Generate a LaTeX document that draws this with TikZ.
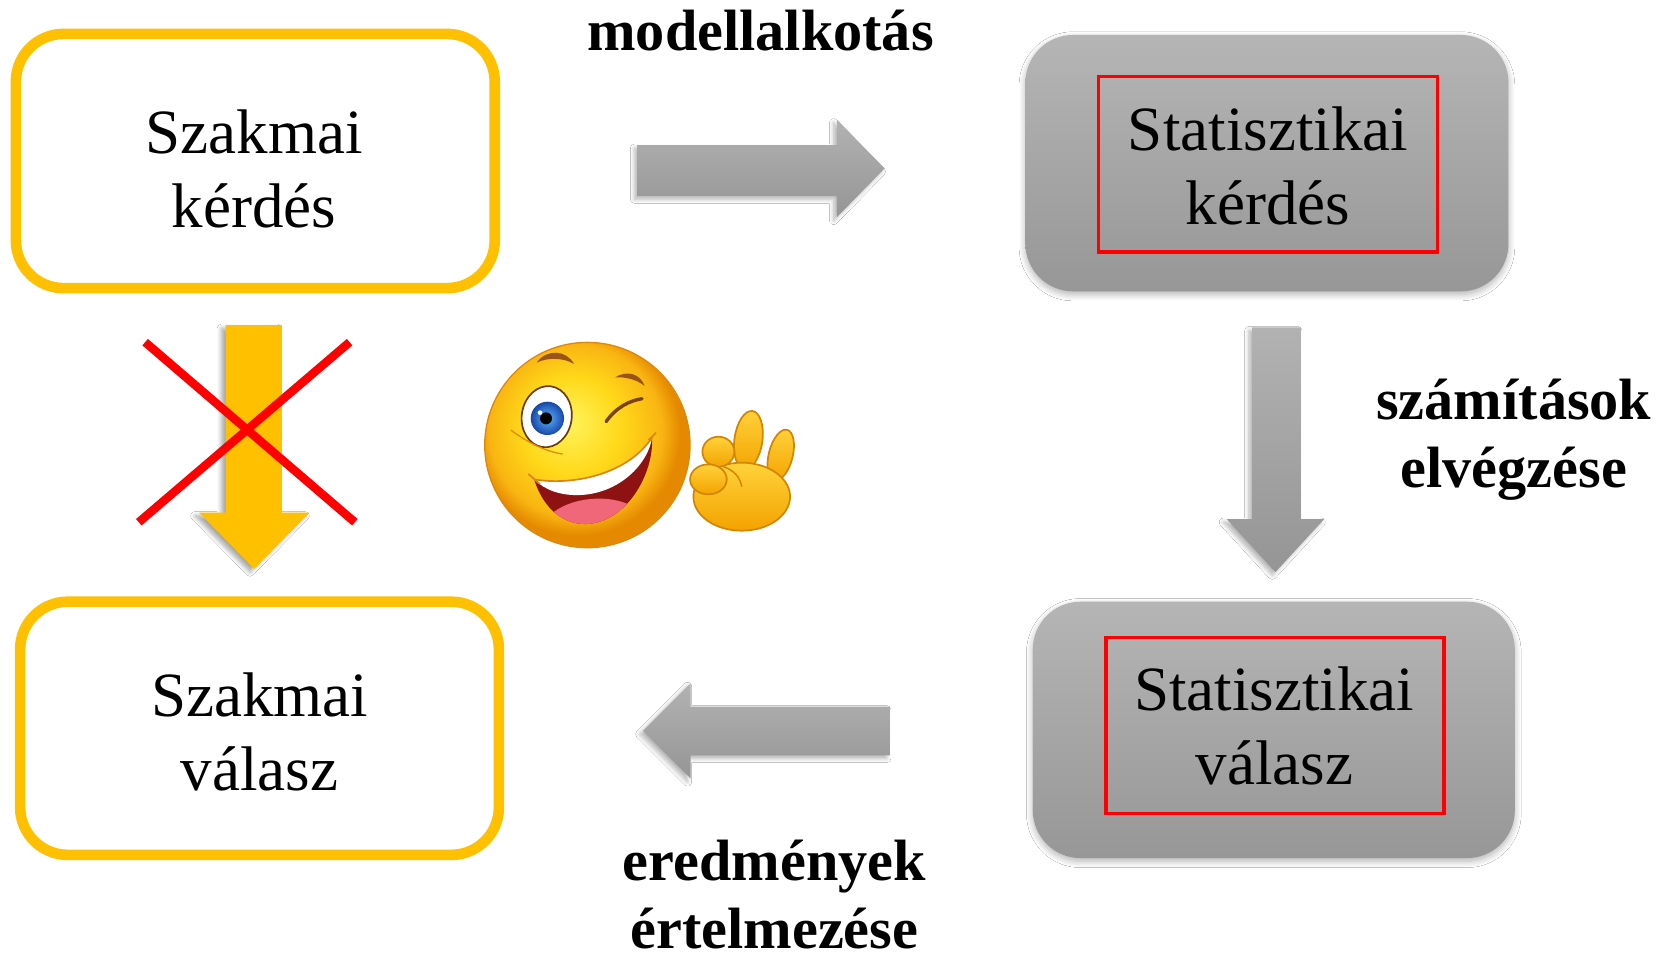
\documentclass[tikz,border=0pt]{standalone}
\usepackage{fontspec}
\setmainfont{Liberation Serif}
\usetikzlibrary{shadows.blur}
\definecolor{gold}{HTML}{FFC000}
\definecolor{gtop}{HTML}{B5B5B5}
\definecolor{gbot}{HTML}{979797}
\definecolor{atop}{HTML}{B2B2B2}
\definecolor{abot}{HTML}{959595}
\definecolor{smA}{HTML}{FFF45E}
\definecolor{smB}{HTML}{FFD819}
\definecolor{smC}{HTML}{F9B512}
\definecolor{smD}{HTML}{E58A00}
\definecolor{brow}{HTML}{9A5418}
\definecolor{mouthred}{HTML}{8E1212}
\definecolor{tongue}{HTML}{F0677A}
\definecolor{handA}{HTML}{FFD23A}
\definecolor{handB}{HTML}{F3A300}
\definecolor{handline}{HTML}{D38400}
\definecolor{irisA}{HTML}{5DB2FF}
\definecolor{irisB}{HTML}{1747A8}
\pgfdeclareradialshading{smileyball}{\pgfpoint{-5bp}{6bp}}{color(0bp)=(smA); color(12bp)=(smB); color(21bp)=(smC); color(25bp)=(smD); color(50bp)=(smD)}
\begin{document}
\begin{tikzpicture}[x=0.5pt,y=-0.5pt,
  goldbox/.style={draw=gold, line width=5pt, rounded corners=22.5pt, fill=white, inner sep=0pt},
  greybox/.style={rounded corners=22.5pt, top color=gtop, bottom color=gbot, inner sep=0pt,
     blur shadow={shadow xshift=0pt, shadow yshift=-1.5pt, shadow blur radius=3pt, shadow blur steps=8, shadow opacity=30}},
  redframe/.style={draw=red, line width=1.6pt, inner sep=0pt},
  boxtext/.style={font=\fontsize{29.75}{35}\selectfont, align=center, anchor=base, inner sep=0pt},
  labeltext/.style={font=\bfseries\fontsize{27.5}{32}\selectfont, align=center, anchor=base, inner sep=0pt},
  greyarrow/.style={top color=atop, bottom color=abot,
     blur shadow={shadow xshift=-1.5pt, shadow yshift=-1.5pt, shadow blur radius=2pt, shadow blur steps=6, shadow opacity=30}},
  goldarrow/.style={fill=gold,
     blur shadow={shadow xshift=-2pt, shadow yshift=-1.5pt, shadow blur radius=2pt, shadow blur steps=6, shadow opacity=35}},
  cross/.style={draw=red, line width=4pt},
]
\useasboundingbox (0,0) rectangle (1568,905);
\fill[white] (0,0) rectangle (1568,905);

% boxes
\node[goldbox, minimum width=226pt, minimum height=120pt] (szk) at (241,152) {};
\node[goldbox, minimum width=226pt, minimum height=119.5pt] (szv) at (245,687.5) {};
\node[greybox, minimum width=228pt, minimum height=121pt] (stk) at (1196,154) {};
\node[greybox, minimum width=227.5pt, minimum height=121pt] (stv) at (1202.5,689) {};
\node[redframe, minimum width=160pt, minimum height=83pt] (stkr) at (1197,155) {};
\node[redframe, minimum width=159.5pt, minimum height=83pt] (stvr) at (1203.5,685) {};

% texts (base anchor = baseline of the last line)
\node[boxtext] (szkt) at (240,215) {Szakmai\\kérdés};
\node[boxtext] (szvt) at (245,746) {Szakmai\\válasz};
\node[boxtext] (stkt) at (1197,212) {Statisztikai\\kérdés};
\node[boxtext] (stvt) at (1203,741) {Statisztikai\\válasz};

\node[labeltext] (l1) at (718,48) {modellalkotás};
\node[labeltext] (l2) at (1429,460) {számítások\\elvégzése};
\node[labeltext] (l3) at (731,895) {eredmények\\értelmezése};

% block arrows
\path[greyarrow] (602,137) -- (790,137) -- (790,113) -- (835,159) -- (790,205) -- (790,185) -- (602,185) -- cycle;
\path[greyarrow] (1182,309) -- (1228,309) -- (1228,490) -- (1250,490) -- (1204,540) -- (1158,490) -- (1182,490) -- cycle;
\path[greyarrow] (840,667) -- (840,713) -- (652,713) -- (652,735) -- (607,690) -- (652,645) -- (652,667) -- cycle;
\path[goldarrow] (213,307) -- (266,307) -- (266,484) -- (292,484) -- (240,537) -- (188,484) -- (213,484) -- cycle;

% red cross
\coordinate (xa) at (137,323);
\coordinate (xb) at (335,493);
\coordinate (xc) at (330,323);
\coordinate (xd) at (131,493);
\draw[cross] (xa) -- (xb);
\draw[cross] (xc) -- (xd);

% smiley (coordinates in a local frame)
\begin{scope}[shift={(415.4,302.1)}, scale=0.3147]
  % hand
  \begin{scope}[draw=handline, line width=0.8pt]
    \path[top color=handA, bottom color=handB, draw, rotate around={-8:(925,360)}] (925,360) ellipse (42 and 88);
    \path[top color=handA, bottom color=handB, draw, rotate around={-14:(1022,405)}] (1022,405) ellipse (36 and 78);
    \path[top color=handA, bottom color=handB, draw] (905,530) ellipse (145 and 102);
    \path[top color=handA, bottom color=handB, draw] (835,395) ellipse (48 and 45);
    \path[top color=handA, bottom color=handB, draw] (805,478) ellipse (55 and 45);
    \draw[handline, line width=0.7pt] (850,440) .. controls (880,450) and (900,470) .. (905,500);
  \end{scope}
  % ball
  \path[shading=smileyball, draw=smD!80!brown, line width=0.6pt] (442,375) circle (308);
  % eyebrows
  \fill[brow] (290,128) .. controls (320,85) and (380,90) .. (402,132) .. controls (370,112) and (320,112) .. cycle;
  \fill[brow] (525,172) .. controls (560,150) and (600,160) .. (614,198) .. controls (590,178) and (555,170) .. cycle;
  % open eye
  \path[fill=white, draw=brow!70!black, line width=0.8pt, rotate around={-8:(320,290)}] (320,290) ellipse (75 and 92);
  \shade[inner color=irisA, outer color=irisB] (322,295) circle (50);
  \fill[black] (318,295) circle (18);
  \fill[white] (300,278) circle (7);
  % wink
  \draw[brow!80!black, line width=1.6pt, line cap=round] (498,305) .. controls (528,262) and (568,242) .. (606,236);
  % cheek line
  \draw[smD, line width=0.6pt] (212,330) .. controls (270,372) and (320,395) .. (368,402);
  % mouth
  \begin{scope}
    \path[clip] (282,478) .. controls (400,498) and (565,462) .. (636,352) .. controls (642,455) and (565,605) .. (440,612) .. controls (368,614) and (310,565) .. cycle;
    \fill[mouthred] (200,300) rectangle (700,700);
    \fill[tongue] (330,585) .. controls (390,530) and (510,520) .. (580,560) .. controls (560,640) and (380,650) .. cycle;
    \fill[white] (282,478) .. controls (400,498) and (565,462) .. (636,352) .. controls (625,430) and (540,520) .. (420,525) .. controls (360,527) and (315,510) .. cycle;
  \end{scope}
  \draw[smD!60!brown, line width=0.8pt] (282,478) .. controls (400,498) and (565,462) .. (636,352);
  \draw[smD!60!brown, line width=0.8pt] (265,462) .. controls (275,470) and (282,478) .. (300,492);
  \draw[smD!60!brown, line width=0.8pt] (625,360) .. controls (635,352) and (640,345) .. (648,338);
\end{scope}
\end{tikzpicture}
\end{document}
